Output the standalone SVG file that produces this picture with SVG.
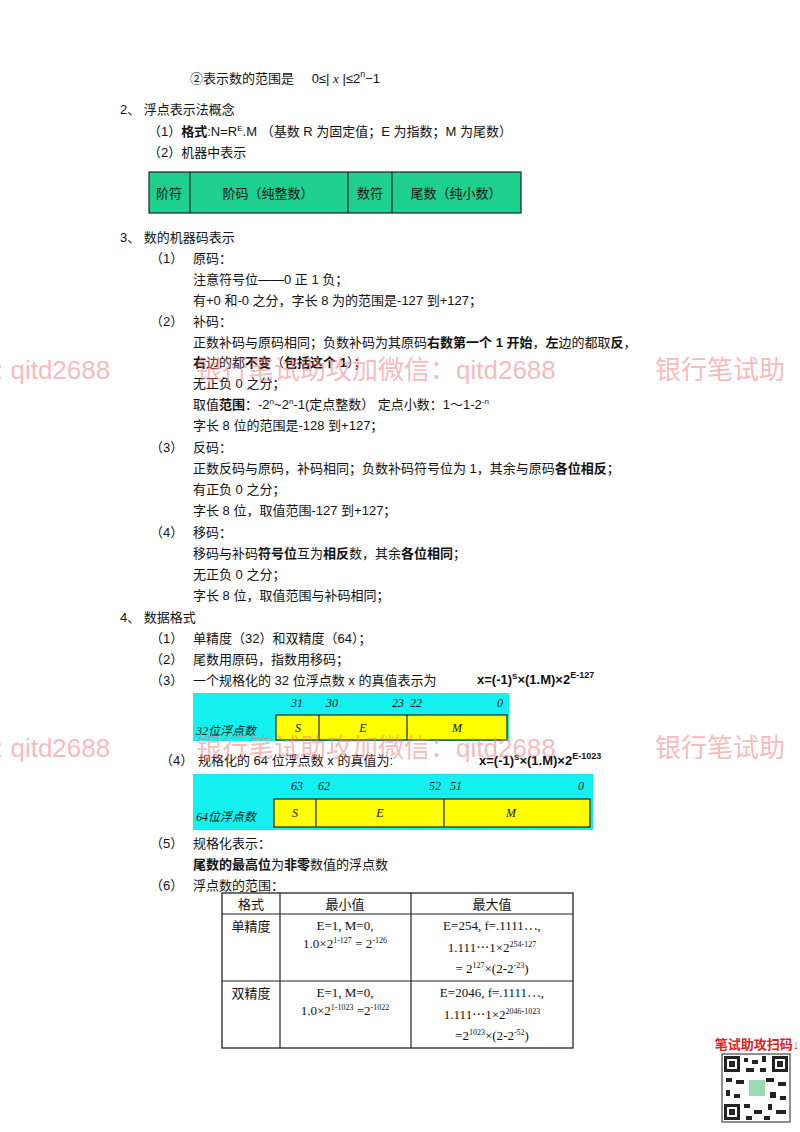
<svg xmlns="http://www.w3.org/2000/svg" width="800" height="1132" viewBox="0 0 800 1132">
<style>
text{font-family:"Liberation Sans","Noto Sans CJK SC",sans-serif;font-size:13px;fill:#111}
.b{font-weight:bold}
.tm{font-family:"Liberation Serif","Noto Sans CJK SC",serif;font-size:13px}
.wm{font-family:"Liberation Sans","Noto Sans CJK SC",sans-serif;font-size:26px;fill:#f08080;fill-opacity:0.55}
.it{font-family:"Liberation Serif","Noto Sans CJK SC",serif;font-style:italic;font-size:12px}
.g{fill:#1fcf8f;stroke:#222;stroke-width:1.2}
.cy{fill:#14f0f0}
.ye{fill:#ffff00;stroke:#222;stroke-width:1.2}
.ln{stroke:#222;stroke-width:1.2}
</style>
<rect width="800" height="1132" fill="#fff"/>
<text x="190" y="83" font-size="14">②表示数的范围是 <tspan dx="14">0≤| </tspan><tspan class="tm" font-style="italic">x</tspan> |≤2<tspan dy="-6" font-size="9">n</tspan><tspan dy="6">−1</tspan></text>
<text x="120" y="114">2、 浮点表示法概念</text>
<text x="148" y="136">（1）<tspan class="b">格式</tspan>:N=R<tspan dy="-5" font-size="8">E</tspan><tspan dy="5">.M （基数 R 为固定值；E 为指数；M 为尾数）</tspan></text>
<text x="148" y="157">（2）机器中表示</text>
<g id="machine">
<rect class="g" x="149" y="172" width="372" height="41"/>
<line class="ln" x1="190" y1="172" x2="190" y2="213"/><line class="ln" x1="348" y1="172" x2="348" y2="213"/><line class="ln" x1="392" y1="172" x2="392" y2="213"/>
<text x="169" y="198" text-anchor="middle" font-size="15" class="tm">阶符</text>
<text x="268" y="198" text-anchor="middle" font-size="15" class="tm">阶码（纯整数）</text>
<text x="370" y="198" text-anchor="middle" font-size="15" class="tm">数符</text>
<text x="456" y="198" text-anchor="middle" font-size="15" class="tm">尾数（纯小数）</text>
</g>
<text x="120" y="242">3、 数的机器码表示</text>
<text x="150" y="263">（1）</text><text x="193" y="263">原码：</text>
<text x="193" y="284">注意符号位——0 正 1 负；</text>
<text x="193" y="305">有+0 和-0 之分，字长 8 为的范围是-127 到+127；</text>
<text x="150" y="326">（2）</text><text x="193" y="326">补码：</text>
<text x="193" y="347">正数补码与原码相同；负数补码为其原码<tspan class="b">右数第一个 1 开始</tspan>，<tspan class="b">左</tspan>边的都取<tspan class="b">反</tspan>，</text>
<text x="193" y="367"><tspan class="b">右</tspan>边的都<tspan class="b">不变</tspan>（<tspan class="b">包括这个 1</tspan>）；</text>
<text x="193" y="388">无正负 0 之分；</text>
<text x="193" y="409">取值<tspan class="b">范围</tspan>：-2<tspan dy="-5" font-size="8">n</tspan><tspan dy="5">~2</tspan><tspan dy="-5" font-size="8">n</tspan><tspan dy="5">-1(定点整数）     定点小数：1～1-2</tspan><tspan dy="-5" font-size="8">-n</tspan></text>
<text x="193" y="430">字长 8 位的范围是-128 到+127；</text>
<text x="150" y="452">（3）</text><text x="193" y="452">反码：</text>
<text x="193" y="473">正数反码与原码，补码相同；负数补码符号位为 1，其余与原码<tspan class="b">各位相反</tspan>；</text>
<text x="193" y="494">有正负 0 之分；</text>
<text x="193" y="515">字长 8 位，取值范围-127 到+127；</text>
<text x="150" y="537">（4）</text><text x="193" y="537">移码：</text>
<text x="193" y="558">移码与补码<tspan class="b">符号位</tspan>互为<tspan class="b">相反</tspan>数，其余<tspan class="b">各位相同</tspan>；</text>
<text x="193" y="579">无正负 0 之分；</text>
<text x="193" y="600">字长 8 位，取值范围与补码相同；</text>
<text x="120" y="622">4、 数据格式</text>
<text x="150" y="643">（1）</text><text x="193" y="643">单精度（32）和双精度（64）；</text>
<text x="150" y="664">（2）</text><text x="193" y="664">尾数用原码，指数用移码；</text>
<text x="150" y="685">（3）</text><text x="193" y="685">一个规格化的 32 位浮点数 x 的真值表示为</text>
<text x="477" y="684" class="b">x=(-1)<tspan dy="-5" font-size="8">S</tspan><tspan dy="5">×(1.M)×2</tspan><tspan dy="-6" font-size="9">E-127</tspan></text>
<g id="float32">
<rect class="cy" x="193" y="693" width="316" height="48"/>
<rect class="ye" x="276" y="715" width="231" height="25"/>
<line class="ln" x1="319" y1="715" x2="319" y2="740"/><line class="ln" x1="407" y1="715" x2="407" y2="740"/>
<text class="it" x="291" y="707">31</text><text class="it" x="326" y="707">30</text><text class="it" x="392" y="707">23</text><text class="it" x="410" y="707">22</text><text class="it" x="497" y="707">0</text>
<text class="it" x="196" y="735">32位浮点数</text>
<text class="it" x="298" y="732" text-anchor="middle">S</text><text class="it" x="363" y="732" text-anchor="middle">E</text><text class="it" x="457" y="732" text-anchor="middle">M</text>
</g>
<text x="160" y="765">（4）</text><text x="198" y="765">规格化的 64 位浮点数 x 的真值为:</text>
<text x="479" y="765" class="b">x=(-1)<tspan dy="-5" font-size="8">S</tspan><tspan dy="5">×(1.M)×2</tspan><tspan dy="-6" font-size="9">E-1023</tspan></text>
<g id="float64">
<rect class="cy" x="193" y="774" width="400" height="56"/>
<rect class="ye" x="274" y="799" width="316" height="28"/>
<line class="ln" x1="316" y1="799" x2="316" y2="827"/><line class="ln" x1="444" y1="799" x2="444" y2="827"/>
<text class="it" x="291" y="790">63</text><text class="it" x="318" y="790">62</text><text class="it" x="429" y="790">52</text><text class="it" x="450" y="790">51</text><text class="it" x="578" y="790">0</text>
<text class="it" x="196" y="821">64位浮点数</text>
<text class="it" x="295" y="817" text-anchor="middle">S</text><text class="it" x="380" y="817" text-anchor="middle">E</text><text class="it" x="511" y="817" text-anchor="middle">M</text>
</g>
<text x="150" y="848">（5）</text><text x="193" y="848">规格化表示：</text>
<text x="193" y="869"><tspan class="b">尾数的最高位</tspan>为<tspan class="b">非零</tspan>数值的浮点数</text>
<text x="150" y="890">（6）</text><text x="193" y="890">浮点数的范围：</text>
<g id="range" class="tm">
<rect x="222" y="893" width="351" height="155" fill="none" stroke="#222" stroke-width="1.3"/>
<line class="ln" x1="280" y1="893" x2="280" y2="1048"/><line class="ln" x1="411" y1="893" x2="411" y2="1048"/>
<line class="ln" x1="222" y1="914" x2="573" y2="914"/><line class="ln" x1="222" y1="981" x2="573" y2="981"/>
<text class="tm" x="251" y="909" text-anchor="middle" font-size="14">格式</text>
<text class="tm" x="345" y="909" text-anchor="middle" font-size="14">最小值</text>
<text class="tm" x="492" y="909" text-anchor="middle" font-size="14">最大值</text>
<text class="tm" x="251" y="931" text-anchor="middle" font-size="14">单精度</text>
<text class="tm" x="345" y="930" text-anchor="middle">E=1, M=0,</text>
<text class="tm" x="345" y="948" text-anchor="middle">1.0×2<tspan dy="-5" font-size="8">1-127</tspan><tspan dy="5"> = 2</tspan><tspan dy="-5" font-size="8">-126</tspan></text>
<text class="tm" x="492" y="930" text-anchor="middle">E=254, f=.1111⋯,</text>
<text class="tm" x="492" y="952" text-anchor="middle">1.111⋯1×2<tspan dy="-5" font-size="8">254-127</tspan></text>
<text class="tm" x="492" y="973" text-anchor="middle">= 2<tspan dy="-5" font-size="8">127</tspan><tspan dy="5">×(2-2</tspan><tspan dy="-5" font-size="8">-23</tspan><tspan dy="5">)</tspan></text>
<text class="tm" x="251" y="998" text-anchor="middle" font-size="14">双精度</text>
<text class="tm" x="345" y="997" text-anchor="middle">E=1, M=0,</text>
<text class="tm" x="345" y="1015" text-anchor="middle">1.0×2<tspan dy="-5" font-size="8">1-1023</tspan><tspan dy="5"> =2</tspan><tspan dy="-5" font-size="8">-1022</tspan></text>
<text class="tm" x="492" y="997" text-anchor="middle">E=2046, f=.1111⋯,</text>
<text class="tm" x="492" y="1019" text-anchor="middle">1.111⋯1×2<tspan dy="-5" font-size="8">2046-1023</tspan></text>
<text class="tm" x="492" y="1040" text-anchor="middle">=2<tspan dy="-5" font-size="8">1023</tspan><tspan dy="5">×(2-2</tspan><tspan dy="-5" font-size="8">-52</tspan><tspan dy="5">)</tspan></text>
</g>
<g id="qr">
<text x="757" y="1049" text-anchor="middle" font-size="9" class="b" fill="#e02020" style="fill:#e02020">笔试助攻扫码↓</text>
<rect x="722" y="1054" width="68" height="68" fill="#fff" stroke="#222" stroke-width="1"/>
<rect x="724" y="1056" width="16" height="16" fill="#222"/><rect x="727" y="1059" width="10" height="10" fill="#fff"/><rect x="729" y="1061" width="6" height="6" fill="#222"/>
<rect x="772" y="1056" width="16" height="16" fill="#222"/><rect x="775" y="1059" width="10" height="10" fill="#fff"/><rect x="777" y="1061" width="6" height="6" fill="#222"/>
<rect x="724" y="1104" width="16" height="16" fill="#222"/><rect x="727" y="1107" width="10" height="10" fill="#fff"/><rect x="729" y="1109" width="6" height="6" fill="#222"/>
<path d="M744 1058h4v4h-4zM752 1060h6v4h-6zM762 1056h4v6h-4zM746 1068h8v4h-8zM760 1068h6v4h-6zM726 1078h6v4h-6zM736 1080h8v4h-8zM766 1078h8v4h-8zM778 1082h8v4h-8zM726 1090h4v6h-4zM734 1094h6v4h-6zM770 1092h6v6h-6zM780 1096h6v4h-6zM744 1104h6v4h-6zM754 1110h8v4h-8zM768 1104h4v6h-4zM776 1110h10v4h-10zM746 1116h6v4h-6zM764 1116h6v4h-6z" fill="#222"/>
<rect x="749" y="1080" width="16" height="16" fill="#9ed8b0"/>
</g>
<text class="wm" x="-4" y="379">: qitd2688<tspan x="196">银行笔试助攻加微信：qitd2688</tspan><tspan x="655">银行笔试助</tspan></text>
<text class="wm" x="-4" y="757">: qitd2688<tspan x="196">银行笔试助攻加微信：qitd2688</tspan><tspan x="655">银行笔试助</tspan></text>
</svg>
